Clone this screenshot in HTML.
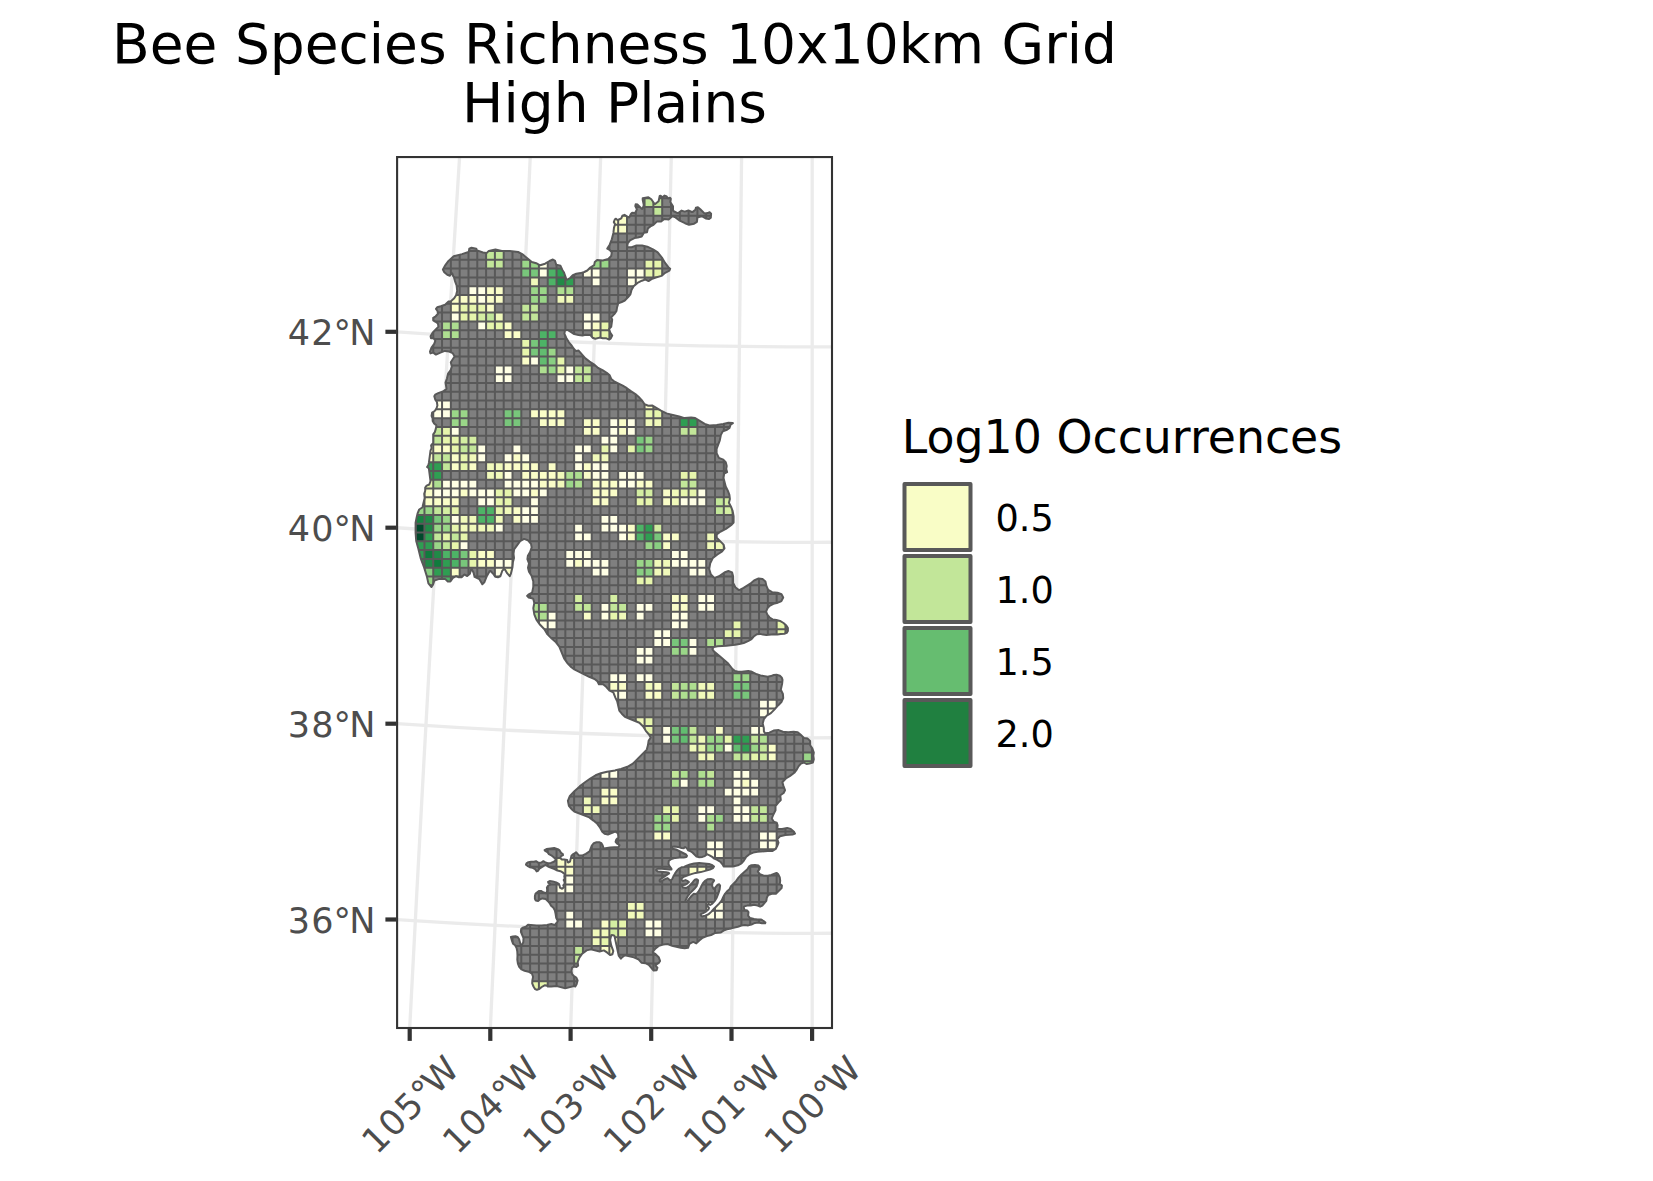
<!DOCTYPE html>
<html lang="en"><head><meta charset="utf-8"><title>Bee Species Richness 10x10km Grid - High Plains</title>
<style>html,body{margin:0;padding:0;background:#fff}svg{display:block}text{font-family:"DejaVu Sans","Liberation Sans",sans-serif}</style>
</head><body>
<svg width="1653" height="1181" viewBox="0 0 1653 1181">
<rect x="0" y="0" width="1653" height="1181" fill="#fff"/>
<defs>
<clipPath id="panel"><rect x="397.1" y="157.1" width="434.9" height="871"/></clipPath>
<clipPath id="region"><path d="M453.3 276.3 L453.9 276.9 L455 281.1 L456.6 285.5 L457.2 290.8 L456.1 295.2 L453.9 298.6 L450.6 301.4 L448.3 301.6 L445.1 304.7 L440.8 306.3 L437.2 307.3 L436 308.9 L437.5 311 L438 313.8 L435.7 316.3 L433.2 317.8 L433.2 320.3 L435.6 321.8 L437.9 323.5 L438.5 326.6 L432.6 332.7 L430.6 336.2 L431 338.2 L433.4 338.2 L435.2 340.5 L435.3 340.9 L434.2 343.9 L431.5 347.6 L430 351.6 L430.4 353.4 L433.3 352.6 L435.9 354.6 L440.4 352.6 L444.9 350.9 L449.2 351.5 L452.6 353.1 L454.5 356.2 L454.4 356.7 L450.8 362.3 L451.8 366.6 L450.7 370 L448.1 373.6 L447 378.3 L445.5 382.5 L446.5 388.7 L446.4 389.1 L442.9 391.5 L438.2 393.1 L435.2 394.6 L434.3 396.3 L435.3 399.7 L436.9 402 L437.4 405.5 L436.4 408.7 L434.7 411 L432.1 412.6 L431.6 415.9 L432.6 418.4 L432.7 421.1 L434.1 423.5 L436.2 425.1 L436.4 425.7 L435.8 428.9 L434.8 432.1 L433.2 434.3 L433.2 442.8 L431.1 445.4 L431.6 448.1 L430.5 450.7 L428.9 463 L428.4 465.1 L427.1 467 L428.7 468.2 L428.9 468.6 L430.5 481.1 L429.3 484.5 L426.6 485.7 L425.2 487.5 L425.2 490.7 L424.2 493.8 L424.7 498.1 L422.5 507.1 L422.3 507.5 L419.2 509.5 L417.7 513.1 L416.7 517.2 L415.6 522.8 L415.6 532.6 L416.2 541 L418.3 548.4 L420.9 559 L424.1 567.5 L426.8 576.1 L428.4 583.4 L431.5 587 L433.1 584.5 L434.3 580.6 L439.3 578.9 L445.1 578.9 L447.8 581.5 L450.4 581.5 L452.9 578 L455.7 576.3 L456.3 576.2 L458.8 577.2 L461.6 577.2 L464.1 574.7 L464.6 574.6 L467.2 576 L469.9 573.8 L470.9 569.7 L471.4 569.3 L472 569.6 L473.6 572.8 L474.6 576.9 L479.3 579 L482.3 584.3 L484.3 582.3 L486.9 575.9 L489.6 571.2 L489.9 570.9 L490.5 571 L493.2 573.7 L495.2 576.8 L498 577.2 L500.3 576.3 L502.4 570.5 L504.1 569.3 L504.6 569.3 L505 569.6 L507.1 573.2 L509.7 576.2 L510.8 573.9 L512.4 567.6 L512.9 562.3 L514 558.1 L513.5 553.8 L514.1 549.3 L520.1 541.1 L524.1 538.9 L527.8 540.2 L531 543.9 L531.7 547.4 L530.1 552 L527.9 555.7 L527.4 559.1 L529 563.4 L528 567.7 L529 571.7 L531.7 576.1 L533.3 581.4 L533.3 586.9 L532.1 592.6 L528.8 594.3 L527.1 595.9 L528.7 597.5 L532.8 598.5 L533.3 599 L534.3 603 L533.3 608.2 L534.3 614.4 L536.4 619.6 L540.1 624.8 L544.4 629.2 L547.5 634.4 L551.7 638.6 L556 642.3 L559.3 646.6 L564.1 658.4 L567.8 663.6 L571.4 667.3 L574.3 669.4 L589.2 676.8 L594.6 679 L597.3 681.1 L598.9 684.2 L602.7 684.2 L603.1 684.3 L606.4 687.1 L609.5 690.7 L613.3 692.4 L615.5 697.9 L617.2 701.2 L619.3 710.6 L621.8 713.7 L624.9 716.8 L629.6 718.8 L639.4 722.7 L643.2 726.5 L645.8 730.8 L649 734.5 L650.7 737.4 L650.6 737.8 L648.6 740.9 L648 745.1 L646.8 749.6 L632.9 763.6 L627.4 766.8 L621 768.9 L615.5 770.3 L615.1 770.6 L607.1 771.7 L600.8 773.2 L595.6 775.3 L590.3 778.5 L585 782.2 L579.7 786.4 L574.4 791.2 L569.9 795.9 L567.9 800.9 L568.9 805.9 L572 809.5 L574.3 811.5 L589.3 817.4 L593.5 820.6 L597.3 823.8 L600.1 827.7 L602.3 831.8 L604.6 833.8 L607.9 834.5 L615.3 831.6 L617.8 833.1 L618 833.6 L618.4 837.5 L616.2 839.8 L615.6 841.8 L617.1 843.7 L619.4 844.9 L619.5 845.3 L618.7 846.7 L618.2 846.9 L610.2 847.4 L603.9 848.4 L603.4 848 L602.7 845.5 L601.4 843.2 L599.2 842.2 L596.5 842.2 L593.8 843.2 L591.8 845.6 L589.6 851.4 L585.8 853.8 L582.1 855.6 L579.3 855.6 L578.9 855.4 L576 852.2 L574.6 853.4 L572.8 854.4 L571.5 855.7 L570 861.6 L568.1 862.5 L567.6 862.2 L567.2 859.9 L564.4 859.6 L562.1 859.6 L560.3 858.3 L560.3 857.7 L561.1 856.1 L563 855.1 L562.8 854 L561 852.8 L559.6 850.4 L557.7 849.1 L554.2 848 L550.7 848.4 L546.5 849.1 L544.6 850.1 L545.2 850.9 L547.3 852 L548.9 854.2 L551.8 855.7 L554 857.5 L555.9 859.5 L555.7 860.2 L553.9 861.7 L550.9 862.9 L547.8 863.3 L545.4 862.5 L543.4 861.2 L541.3 862.5 L538.5 862.9 L536 861.2 L534 861.8 L531.1 861.8 L528.4 862.2 L526.5 863.4 L526 864.7 L527.4 865.8 L529.8 867.2 L532.7 867.9 L535 869 L536.7 871.4 L537.9 870.9 L539.4 868.7 L543.8 865.8 L545.5 865 L545.9 865.1 L548 866.5 L554.5 869 L557.4 870.5 L560.4 871.2 L562.6 872.4 L564.6 874 L564.7 874.4 L564.3 876.5 L564.7 878.4 L563.7 880.1 L564.7 882 L564.3 884.4 L563.3 885.3 L563.9 886.8 L563.9 887.3 L562.3 888.6 L561.8 888.7 L560 887.7 L559.5 885.3 L558.9 883.8 L556.2 882.5 L552.7 881.4 L549.7 881.1 L548.1 881.9 L548.3 882.9 L550 883.6 L550.1 884.3 L549.9 884.6 L548.2 885.6 L546.9 887.5 L547.2 890.4 L546.4 893.2 L545.7 893.3 L543.2 892.3 L541 890.9 L539.2 890.9 L535.6 893.5 L534.9 896.1 L534.9 898.8 L535.8 900.6 L538.1 900.9 L540.1 899.2 L542.5 898.4 L545.7 899.1 L548.2 901.4 L550 903.7 L551.1 905.8 L553.4 907.7 L554.9 910.5 L555.6 913.9 L556.2 917.8 L557.7 920.9 L557.7 921.4 L555 924.8 L554.6 925 L551.3 924 L547.1 925 L541.7 925.5 L536.4 925.5 L528 924.8 L525.9 926.8 L522.6 927.7 L521.2 928.9 L520.9 931.8 L523.5 938.1 L523.3 942.1 L521.9 945.1 L521.6 945.4 L521.1 945.3 L520.8 945 L519 939 L517.5 936.9 L515.5 936.3 L513 936.5 L510.9 936.9 L512.1 941.2 L513.1 943.8 L515.1 945.3 L516.6 948.1 L517.3 951.5 L517.5 955.6 L517.3 959.7 L517.9 963.6 L519.2 966.8 L521.4 969.4 L524.6 970.7 L528.6 971.7 L531.9 973.5 L533.1 976.8 L532.4 980.1 L532.2 983.3 L533.5 986.5 L535 989 L536.9 989.8 L539.3 989 L541.7 987 L544.6 985.3 L546.7 985.6 L547.7 986.5 L551.3 986.6 L556.8 986.1 L565.2 988.2 L573.9 986.1 L575.3 986.5 L576.6 984.3 L577.6 980.4 L576.2 977.5 L573.6 975.7 L572.1 974.2 L571.5 970.8 L572.1 967.7 L573.9 966.6 L576.5 966.9 L578.1 965.7 L577.7 962 L579.4 957.6 L582.2 953.7 L586.6 950.4 L590.9 949.4 L599.6 951.5 L603.9 950.4 L607.3 952.7 L610.3 955.1 L612.4 954.3 L613.3 951.1 L611.2 945.4 L610.1 940 L611.2 935.4 L611.7 935 L614.1 935.5 L614.5 936 L618.7 955.6 L620.9 958.6 L622.6 956.9 L625 955.2 L633.8 957.4 L638.3 959.2 L641.4 962.7 L645.4 963.2 L648.8 964.9 L653.6 970.6 L656.6 970.2 L657.4 967.7 L655.6 965.8 L655.4 965.2 L655.7 964.9 L658.8 962.8 L660.1 961 L658.7 957.2 L655.6 954.2 L653 952.6 L652.7 951.9 L655.6 948.4 L659 945.7 L663.3 944.6 L667.6 944 L672.1 945.7 L680.6 947.8 L684.7 948.3 L688 947.8 L689.5 943.9 L689.8 943.6 L693.2 941.9 L696.3 943.4 L699.3 940.5 L702.6 937.7 L706.9 936.1 L711.1 935 L715.3 932.9 L720.9 932.4 L723.5 930.6 L726.9 929.3 L731.2 928.4 L737.9 926.7 L741.4 925.5 L744.8 925 L748.2 925.4 L751.4 924.6 L754.9 922.9 L758.3 922.5 L761.9 923.3 L765.1 923.3 L765.4 922.5 L763.6 921 L760.8 919.4 L757.5 919.4 L754.1 919 L750 918.1 L748.1 915.6 L748.5 912.2 L747.1 910.5 L744.8 910.1 L744.4 909.9 L743.8 907.1 L743.9 906.7 L744.3 906.4 L747.2 905.6 L750.7 905.5 L754 904.7 L757.7 905.6 L760.1 906.7 L762.3 905.7 L766.3 900.8 L766.8 897.8 L768.2 895.1 L771.7 893.7 L775.9 893.7 L781.6 888.1 L781.9 885.6 L779.8 883.8 L780.2 880.7 L779.8 877.5 L778.3 874.3 L776.5 872.9 L771.3 875 L767.9 875.8 L763.3 875.4 L759.9 874.1 L757.8 871.6 L758 871 L759.5 869.4 L759.9 867.3 L758.5 865.6 L755 865.1 L751.4 865.2 L749.1 866.4 L747.4 869.3 L741.5 874.4 L738.5 877.7 L736 881.2 L731 886.2 L729.6 889.2 L727.1 891.3 L725 893.8 L723.4 896.7 L721.6 900.6 L719.1 903.6 L714 908.7 L711.4 911.6 L708.6 914.3 L705.2 915.6 L702 916.5 L701.6 916.2 L700.7 914.9 L700.6 914.5 L700.8 914.2 L703.1 913.2 L706 911.6 L708.4 909.6 L709 908 L707.4 906.2 L708 904.1 L708.6 903.9 L710.2 905 L712.3 903.6 L714.7 901.1 L716.8 897.4 L718.5 893.2 L719.7 889.1 L720.1 885.5 L719.2 884.2 L717.7 884.6 L714.4 888.7 L713.8 888.9 L713.4 888.6 L712.1 885.9 L712.5 882.8 L714.1 880.7 L713.5 879.6 L710.9 879 L707.8 879.2 L705 880.8 L703 883.2 L701.4 886.1 L700 889.1 L698.4 891.7 L696.6 893.8 L696.1 894 L693.8 893.7 L691.5 896 L689 898.9 L687.1 901.8 L686.5 902.1 L686.1 901.8 L685.4 900.6 L687.2 897 L689.4 893.9 L694.4 888.8 L696.5 886.4 L697.7 883.1 L698.1 880.2 L696.9 879.3 L695.2 879.6 L693.6 881.1 L691.9 883.3 L689.4 885.8 L686.3 888 L685.9 888.1 L683.1 887.6 L682.1 886.1 L682.1 885.5 L682.5 885.2 L685 884.8 L687.3 883.6 L688.9 882.1 L687.8 881.2 L685.5 880.1 L683.2 880.9 L682.8 880.9 L681.3 879.5 L681.2 879 L681.4 878.6 L683.7 876.8 L691.3 874.1 L695.6 872.9 L700.7 872.1 L709.9 869.6 L713.1 868 L714 866.5 L712.4 865.2 L709.1 864 L704.2 863.4 L699.1 863.1 L694.1 863.5 L690 864.4 L686.7 865.6 L684.1 866.9 L681.5 867.3 L678.7 868.9 L676.7 871 L675.1 873.4 L673.4 876.3 L672.1 879.3 L670.7 880.4 L670.4 880.5 L669.9 880.3 L667.6 878.1 L665.9 878.7 L660.6 881.7 L660.2 881.7 L659.8 881.5 L659.6 880.4 L659.8 879.8 L669.1 873.4 L668.7 872.8 L666 872.2 L657.8 871.6 L656.2 870.2 L656.3 869.5 L658.1 868.5 L661.9 868.7 L669.9 869.5 L671.5 869.4 L671.4 868.7 L669.8 866.6 L668.5 864.1 L668.7 861.2 L669 860.8 L671.4 859 L675.3 857.9 L679.6 857.4 L683.8 857.4 L686.4 856.9 L687 855.8 L686 854.5 L676 849.5 L672.5 848.6 L671.7 847.7 L671.7 846.9 L672.1 846.7 L674.7 846.4 L678 846.9 L681.5 848 L683.7 848.3 L684.7 847.3 L685.2 847.1 L685.5 847.2 L686.9 848.2 L688.1 850.2 L690.1 851 L692.7 852.7 L696.5 856.6 L699.2 857.3 L702.4 856.9 L704.8 856.1 L706.8 854.4 L707.4 854.3 L709.6 855.3 L712.2 856.9 L714.3 858.6 L717.2 859.9 L720.6 862 L722.5 864.3 L723.6 866.4 L727.9 866.6 L732.9 866.4 L737.9 865.3 L741.5 863.3 L743.9 860.5 L746 857.1 L749.1 854.4 L753.2 852.6 L757.5 851.8 L767.7 850.9 L772.6 850.9 L775.7 849 L777.3 845.8 L778.5 842.6 L777.3 839.4 L777.3 839 L780 836.3 L785.4 835.1 L792.5 834.6 L795 833.6 L794.2 832.1 L790.7 828.9 L787.2 827.9 L782.1 828.9 L777.7 829.1 L777.3 828.5 L777.6 825.4 L776.7 822.6 L773.6 821.6 L771.8 818.5 L773.4 814.5 L775.5 810.3 L775.5 806 L778.3 802.6 L780.8 800.1 L780.3 795.6 L780.4 795.2 L783.6 793 L785 790.2 L783.5 786.1 L782.4 782.4 L782.5 782 L785.9 778.5 L790.1 775.9 L794.3 772.8 L796.9 769.4 L798.5 766.4 L800.9 763.6 L803.8 762.5 L806.5 764 L809.5 763.5 L812.9 762.6 L813.8 759.3 L813.3 755.7 L813.8 752.5 L812.3 748.4 L810.2 745.3 L810.1 740.9 L807.7 738.6 L804 738 L800.7 734.8 L797.7 732.2 L793.6 731.7 L788.3 732.2 L782.9 731.7 L778.7 730.1 L773.6 730.6 L769.4 732.7 L765.5 733.3 L764.9 733 L763.9 731.4 L763.8 728 L762.7 723.5 L763.9 719 L766.7 715.7 L770.9 713.1 L774.6 709.4 L778.3 705.2 L781.4 702 L783.2 698 L782.9 694 L780.8 689.7 L782.1 683.9 L782.5 679.9 L781.8 677.6 L779.9 675.7 L776.5 674.8 L773.8 675 L770.9 676.1 L767.7 676.8 L760.5 675.4 L756.8 674.3 L751 671.4 L748.2 670.9 L741.8 671.7 L738.1 671.7 L735 671 L732.5 669 L728.2 663.6 L719.5 656 L714.1 651.6 L712.4 649.1 L712.6 648.6 L713.8 647 L717.6 646.2 L726.4 645.7 L735.1 644.8 L739.4 644.1 L743.7 643 L748 641.2 L751.5 639.1 L753.7 636.5 L756.9 634.3 L760 633.9 L762.9 634.6 L766.4 635 L773.6 634.2 L777.2 634.6 L780.8 633.9 L784.4 633.7 L786.7 632.9 L787.9 631 L787.9 628.1 L786.3 625.4 L783.5 623 L780 620.9 L776.4 620 L772.6 619.4 L769.6 617.5 L767.3 614.7 L766.2 611.8 L766.2 611.4 L767.4 608.3 L769.6 605.8 L773.4 603.8 L777.8 602.7 L781 601.3 L781.5 600.9 L783.2 597.5 L781.5 594.3 L777.5 592.8 L772.1 592.2 L768.2 589.9 L766.4 585.9 L765.4 581.4 L762.5 578.9 L758.6 578.4 L754.1 580.5 L750.3 583.7 L743.6 587.9 L739.3 590.1 L738.9 590.1 L735.3 587.2 L733.2 582.9 L733.1 576.3 L732.1 572.4 L728.4 571 L724.4 572.5 L719 576.3 L714.5 577.9 L714.1 577.7 L710.9 574.5 L709.2 569 L710.2 563.3 L712.9 557.9 L717.4 554.5 L722.1 551.3 L724.5 548.4 L723.6 544.6 L716.7 537.6 L716.7 534.4 L720.7 531.5 L725.9 528.9 L731.7 524.7 L733.6 522.5 L733.6 516.1 L732.6 510.9 L731 506.7 L728.9 502.8 L729.9 499 L729.4 494.9 L727.8 490.7 L725.7 486.4 L723.5 477.9 L724.2 473.6 L727.1 472.1 L726.2 469.1 L726.7 466 L725.7 462.1 L723.3 459.6 L718.9 457.9 L716.6 453.2 L716.6 448.8 L719.8 440.3 L720.9 434.9 L722.5 431.7 L722.9 431.4 L727 429.8 L729.5 427.9 L730.6 424.6 L732.9 423.2 L732.8 422.9 L728.4 422.7 L723.2 424 L716.8 425.1 L710.1 425.6 L704.7 423.9 L695.2 418.1 L691.1 417.6 L684.6 418.1 L679.2 416.5 L666.5 413.4 L661 410.6 L652.1 405.4 L648.3 405.7 L644.6 404.3 L641.7 400.1 L638.5 396.7 L635.4 394.1 L631.2 391.4 L626.9 388.2 L622.7 385.6 L614.1 381.3 L611.2 378.9 L609.7 375.3 L606.7 372.8 L602.5 370.2 L598.1 368 L593.9 364.3 L589.6 361.6 L585.4 358.4 L578.6 350.6 L576.2 351.1 L575.7 350.9 L573.6 348.5 L571.6 345.5 L568.9 342.3 L566.3 338 L564.4 333.7 L564.9 330.8 L565.2 330.5 L567.4 329.9 L570.8 331.9 L574.2 334.1 L578.4 335 L582.5 335.5 L585.7 334.7 L590 335 L590.4 335.2 L592.5 337.7 L595.3 338.7 L599.7 337.6 L602.8 338.2 L605.9 338.2 L609.1 339.6 L610.8 338.4 L612.2 335.6 L610.2 332.6 L609.1 329.1 L609.2 328.7 L611.2 326.8 L612.2 319.7 L611.3 317.7 L611.2 317.2 L614.5 313.9 L616.5 310.9 L617.1 307.2 L618.3 303.2 L621.7 302 L624.8 300.5 L627.9 297.4 L630.4 294.3 L631.5 290 L633.6 286.3 L637.5 282.9 L641.9 280.7 L645.1 279.6 L645.6 279.7 L648.5 281.1 L651.5 279.1 L655.8 277.5 L661.5 275.9 L665.2 272.8 L669.4 270.7 L670.2 268.7 L668.3 267.2 L665.1 262.9 L661.9 257.6 L657.7 252.4 L653 249.3 L647.3 246.7 L642.1 245.6 L635.9 245.6 L631.7 247.2 L627.5 247.2 L627.2 246.5 L627.7 243.3 L630 240.4 L634.4 238.1 L637.8 237.5 L641.7 236.5 L643.9 232.8 L647 232.3 L647.9 228.4 L648.2 228.1 L650.4 226.4 L653.5 224.8 L656.8 221.6 L661.1 221.5 L664.3 218.9 L668.6 219.4 L672.3 216.3 L672.7 216.3 L675.5 217.4 L679.7 220.6 L685 223.2 L689 224.7 L694.1 223.7 L696.9 221.8 L697.4 217.8 L697.9 217.3 L701.8 216.2 L705.7 218.4 L709.1 218.9 L710.8 217.6 L711.1 213.8 L709.6 212.2 L707.7 213.1 L704.7 213.6 L700.3 209.3 L697.9 207.3 L695.9 207.8 L695.4 209.7 L692.4 212.1 L691.9 212 L688.4 210.5 L684.7 211.6 L681.6 210.6 L678.2 213 L677.5 213.1 L673.3 211 L673 210.6 L673 206.3 L670.3 202 L670.8 198.9 L670.1 197.8 L668.4 198.2 L667.9 198.2 L666.3 196.1 L664.6 195.6 L662.7 197.1 L662.3 197.2 L661.9 197 L660.6 195.7 L659.7 196 L658.6 201.2 L655.1 204.1 L654.4 203.8 L651.3 199.2 L648.4 197.2 L642.7 198.2 L642.7 199.7 L643.8 205 L642.6 208.7 L642.2 208.9 L641.7 208.7 L637.6 204.6 L635.7 204.2 L635.3 206.1 L636.9 209.4 L635.1 213 L634.6 213.1 L632.2 212.7 L630.9 214 L629.4 217.1 L629 217.4 L628.5 217.3 L624.5 214.8 L622.4 215.7 L621.3 218.3 L617.9 220 L617.2 219.9 L616 218.7 L614.9 219.3 L613.8 222.1 L615 224 L615 224.5 L614 227.6 L613.4 232.9 L611.8 239.3 L609.7 244.7 L607.3 248.6 L609.6 249.9 L611.8 252.3 L611.2 256.1 L608.2 258.9 L602.9 260.5 L597.1 260 L594.8 261.9 L594.2 265.1 L590.3 267.5 L587.3 270.5 L584.3 272 L580.6 273.1 L576.3 273.8 L572.8 275.2 L570.1 278 L567.3 279.6 L566.7 279.6 L566.4 279.3 L564 272.5 L562.5 270.2 L560.5 265.8 L556.3 264.7 L556.1 264.4 L555.1 260.9 L552.9 259.5 L549.5 261 L545.1 263.7 L540.1 265.3 L536.2 263.2 L531.8 262 L522.2 254.1 L518.1 252 L509.8 251 L501.8 251 L495.4 249.4 L488.8 250.9 L486.8 252.9 L486.3 253.1 L483 252.5 L477.1 250.4 L476.8 250 L476.3 248.7 L471.5 247.8 L469.3 248.7 L468.9 251.5 L468.5 252 L462 254.1 L453.7 256.2 L448.5 260.9 L445.4 265.1 L442.9 269.5 L444.3 272.3 L447.3 274.8 L449.9 275.7 L451.3 273.5 L451.6 273.2 L452 273.2 L452.3 273.6 Z"/></clipPath>
</defs>
<g font-size="55" fill="#000" text-anchor="middle">
<text x="614.5" y="63">Bee Species Richness 10x10km Grid</text>
<text x="614.5" y="122">High Plains</text>
</g>
<g clip-path="url(#panel)" fill="none" stroke="#EBEBEB" stroke-width="3.3">
<path d="M409.2 1038 Q432.1 592.5 460.2 147.1"/>
<path d="M489.9 1038 Q508.6 592.5 530.7 147.1"/>
<path d="M570.3 1038 Q584.7 592.5 601 147.1"/>
<path d="M651 1038 Q660.8 592.5 671.5 147.1"/>
<path d="M731.5 1038 Q736.5 592.5 741.7 147.1"/>
<path d="M812.2 1038 Q812.2 592.5 812.2 147.1"/>
<circle cx="812.2" cy="-5392.1" r="5739"/>
<circle cx="812.2" cy="-5373.6" r="5915.9"/>
<circle cx="812.2" cy="-5355.1" r="6092.9"/>
<circle cx="812.2" cy="-5336.5" r="6269.8"/>
</g>
<g clip-path="url(#panel)">
<g clip-path="url(#region)">
<rect x="400" y="180" width="430" height="830" fill="#7F7F7F"/>
<path fill="#C2E699" d="M486.09 251.02h8.8v8.8h-8.8zM494.89 251.02h8.8v8.8h-8.8zM486.09 259.81h8.8v8.8h-8.8zM494.89 259.81h8.8v8.8h-8.8zM644.58 198.24h8.8v8.8h-8.8zM653.38 198.24h8.8v8.8h-8.8zM653.38 207.03h8.8v8.8h-8.8zM521.31 303.8h8.8v8.8h-8.8zM530.11 303.8h8.8v8.8h-8.8zM486.09 312.6h8.8v8.8h-8.8zM521.31 312.6h8.8v8.8h-8.8zM530.11 312.6h8.8v8.8h-8.8zM574.13 365.38h8.8v8.8h-8.8zM582.94 365.38h8.8v8.8h-8.8zM574.13 374.18h8.8v8.8h-8.8zM582.94 374.18h8.8v8.8h-8.8zM433.25 426.96h8.8v8.8h-8.8zM679.8 426.96h8.8v8.8h-8.8zM688.6 426.96h8.8v8.8h-8.8zM433.25 435.75h8.8v8.8h-8.8zM459.67 444.55h8.8v8.8h-8.8zM468.48 444.55h8.8v8.8h-8.8zM433.25 453.35h8.8v8.8h-8.8zM442.06 453.35h8.8v8.8h-8.8zM442.06 462.15h8.8v8.8h-8.8zM679.8 479.74h8.8v8.8h-8.8zM688.6 479.74h8.8v8.8h-8.8zM715.02 497.33h8.8v8.8h-8.8zM433.25 506.13h8.8v8.8h-8.8zM715.02 506.13h8.8v8.8h-8.8zM433.25 532.52h8.8v8.8h-8.8zM450.87 532.52h8.8v8.8h-8.8zM442.06 541.32h8.8v8.8h-8.8zM574.13 602.9h8.8v8.8h-8.8zM582.94 602.9h8.8v8.8h-8.8zM609.36 602.9h8.8v8.8h-8.8zM618.16 602.9h8.8v8.8h-8.8zM670.99 682.07h8.8v8.8h-8.8zM670.99 690.87h8.8v8.8h-8.8zM688.6 726.06h8.8v8.8h-8.8zM688.6 734.85h8.8v8.8h-8.8zM750.24 734.85h8.8v8.8h-8.8zM759.04 743.65h8.8v8.8h-8.8zM732.62 752.45h8.8v8.8h-8.8zM741.43 752.45h8.8v8.8h-8.8zM670.99 770.04h8.8v8.8h-8.8zM706.21 770.04h8.8v8.8h-8.8zM750.24 805.23h8.8v8.8h-8.8zM759.04 805.23h8.8v8.8h-8.8zM750.24 814.03h8.8v8.8h-8.8zM759.04 814.03h8.8v8.8h-8.8zM574.13 945.98h8.8v8.8h-8.8zM574.13 954.78h8.8v8.8h-8.8z"/>
<path fill="#9AD688" d="M521.31 259.81h8.8v8.8h-8.8zM530.11 259.81h8.8v8.8h-8.8zM591.75 259.81h8.8v8.8h-8.8zM600.55 259.81h8.8v8.8h-8.8zM530.11 286.21h8.8v8.8h-8.8zM538.91 286.21h8.8v8.8h-8.8zM530.11 295h8.8v8.8h-8.8zM538.91 295h8.8v8.8h-8.8zM547.72 347.78h8.8v8.8h-8.8zM547.72 365.38h8.8v8.8h-8.8zM450.87 409.36h8.8v8.8h-8.8zM459.67 409.36h8.8v8.8h-8.8zM450.87 418.16h8.8v8.8h-8.8zM459.67 418.16h8.8v8.8h-8.8zM644.58 435.75h8.8v8.8h-8.8zM644.58 444.55h8.8v8.8h-8.8zM565.33 479.74h8.8v8.8h-8.8zM415.65 506.13h8.8v8.8h-8.8zM424.45 506.13h8.8v8.8h-8.8zM442.06 514.93h8.8v8.8h-8.8zM433.25 523.72h8.8v8.8h-8.8zM442.06 523.72h8.8v8.8h-8.8zM433.25 541.32h8.8v8.8h-8.8zM644.58 541.32h8.8v8.8h-8.8zM635.77 558.91h8.8v8.8h-8.8zM644.58 558.91h8.8v8.8h-8.8zM424.45 576.51h8.8v8.8h-8.8zM670.99 646.88h8.8v8.8h-8.8zM679.8 646.88h8.8v8.8h-8.8zM732.62 673.27h8.8v8.8h-8.8zM741.43 673.27h8.8v8.8h-8.8zM706.21 734.85h8.8v8.8h-8.8zM715.02 734.85h8.8v8.8h-8.8zM706.21 743.65h8.8v8.8h-8.8zM715.02 743.65h8.8v8.8h-8.8zM750.24 743.65h8.8v8.8h-8.8zM803.07 752.45h8.8v8.8h-8.8zM803.07 761.24h8.8v8.8h-8.8zM653.38 814.03h8.8v8.8h-8.8zM662.18 814.03h8.8v8.8h-8.8zM715.02 814.03h8.8v8.8h-8.8zM653.38 822.82h8.8v8.8h-8.8zM662.18 822.82h8.8v8.8h-8.8z"/>
<path fill="#FFFFE5" d="M538.91 259.81h8.8v8.8h-8.8zM538.91 268.61h8.8v8.8h-8.8zM582.94 268.61h8.8v8.8h-8.8zM591.75 268.61h8.8v8.8h-8.8zM626.97 268.61h8.8v8.8h-8.8zM635.77 268.61h8.8v8.8h-8.8zM591.75 277.41h8.8v8.8h-8.8zM626.97 277.41h8.8v8.8h-8.8zM635.77 277.41h8.8v8.8h-8.8zM468.48 286.21h8.8v8.8h-8.8zM477.28 286.21h8.8v8.8h-8.8zM477.28 295h8.8v8.8h-8.8zM450.87 312.6h8.8v8.8h-8.8zM582.94 312.6h8.8v8.8h-8.8zM591.75 312.6h8.8v8.8h-8.8zM477.28 321.39h8.8v8.8h-8.8zM582.94 321.39h8.8v8.8h-8.8zM530.11 356.58h8.8v8.8h-8.8zM494.89 365.38h8.8v8.8h-8.8zM503.7 365.38h8.8v8.8h-8.8zM565.33 365.38h8.8v8.8h-8.8zM494.89 374.18h8.8v8.8h-8.8zM503.7 374.18h8.8v8.8h-8.8zM556.53 374.18h8.8v8.8h-8.8zM565.33 374.18h8.8v8.8h-8.8zM433.25 400.57h8.8v8.8h-8.8zM442.06 400.57h8.8v8.8h-8.8zM433.25 409.36h8.8v8.8h-8.8zM442.06 409.36h8.8v8.8h-8.8zM609.36 418.16h8.8v8.8h-8.8zM626.97 418.16h8.8v8.8h-8.8zM450.87 426.96h8.8v8.8h-8.8zM609.36 426.96h8.8v8.8h-8.8zM626.97 426.96h8.8v8.8h-8.8zM600.55 435.75h8.8v8.8h-8.8zM609.36 435.75h8.8v8.8h-8.8zM477.28 444.55h8.8v8.8h-8.8zM512.5 444.55h8.8v8.8h-8.8zM574.13 444.55h8.8v8.8h-8.8zM582.94 444.55h8.8v8.8h-8.8zM609.36 444.55h8.8v8.8h-8.8zM477.28 453.35h8.8v8.8h-8.8zM503.7 453.35h8.8v8.8h-8.8zM521.31 453.35h8.8v8.8h-8.8zM574.13 453.35h8.8v8.8h-8.8zM574.13 462.15h8.8v8.8h-8.8zM591.75 462.15h8.8v8.8h-8.8zM600.55 462.15h8.8v8.8h-8.8zM503.7 470.94h8.8v8.8h-8.8zM591.75 470.94h8.8v8.8h-8.8zM600.55 470.94h8.8v8.8h-8.8zM618.16 470.94h8.8v8.8h-8.8zM626.97 470.94h8.8v8.8h-8.8zM635.77 470.94h8.8v8.8h-8.8zM442.06 479.74h8.8v8.8h-8.8zM450.87 479.74h8.8v8.8h-8.8zM459.67 479.74h8.8v8.8h-8.8zM468.48 479.74h8.8v8.8h-8.8zM503.7 479.74h8.8v8.8h-8.8zM512.5 479.74h8.8v8.8h-8.8zM521.31 479.74h8.8v8.8h-8.8zM530.11 479.74h8.8v8.8h-8.8zM618.16 479.74h8.8v8.8h-8.8zM626.97 479.74h8.8v8.8h-8.8zM433.25 488.54h8.8v8.8h-8.8zM442.06 488.54h8.8v8.8h-8.8zM450.87 488.54h8.8v8.8h-8.8zM468.48 488.54h8.8v8.8h-8.8zM477.28 488.54h8.8v8.8h-8.8zM486.09 488.54h8.8v8.8h-8.8zM512.5 488.54h8.8v8.8h-8.8zM521.31 488.54h8.8v8.8h-8.8zM538.91 488.54h8.8v8.8h-8.8zM697.4 488.54h8.8v8.8h-8.8zM477.28 497.33h8.8v8.8h-8.8zM486.09 497.33h8.8v8.8h-8.8zM530.11 497.33h8.8v8.8h-8.8zM679.8 497.33h8.8v8.8h-8.8zM688.6 497.33h8.8v8.8h-8.8zM697.4 497.33h8.8v8.8h-8.8zM521.31 506.13h8.8v8.8h-8.8zM530.11 506.13h8.8v8.8h-8.8zM450.87 514.93h8.8v8.8h-8.8zM521.31 514.93h8.8v8.8h-8.8zM530.11 514.93h8.8v8.8h-8.8zM600.55 514.93h8.8v8.8h-8.8zM609.36 514.93h8.8v8.8h-8.8zM494.89 523.72h8.8v8.8h-8.8zM574.13 523.72h8.8v8.8h-8.8zM600.55 523.72h8.8v8.8h-8.8zM609.36 523.72h8.8v8.8h-8.8zM618.16 523.72h8.8v8.8h-8.8zM574.13 532.52h8.8v8.8h-8.8zM582.94 532.52h8.8v8.8h-8.8zM618.16 532.52h8.8v8.8h-8.8zM459.67 541.32h8.8v8.8h-8.8zM565.33 550.12h8.8v8.8h-8.8zM574.13 550.12h8.8v8.8h-8.8zM582.94 550.12h8.8v8.8h-8.8zM670.99 550.12h8.8v8.8h-8.8zM679.8 550.12h8.8v8.8h-8.8zM494.89 558.91h8.8v8.8h-8.8zM503.7 558.91h8.8v8.8h-8.8zM565.33 558.91h8.8v8.8h-8.8zM582.94 558.91h8.8v8.8h-8.8zM591.75 558.91h8.8v8.8h-8.8zM600.55 558.91h8.8v8.8h-8.8zM670.99 558.91h8.8v8.8h-8.8zM679.8 558.91h8.8v8.8h-8.8zM688.6 558.91h8.8v8.8h-8.8zM697.4 558.91h8.8v8.8h-8.8zM494.89 567.71h8.8v8.8h-8.8zM591.75 567.71h8.8v8.8h-8.8zM600.55 567.71h8.8v8.8h-8.8zM688.6 567.71h8.8v8.8h-8.8zM697.4 567.71h8.8v8.8h-8.8zM697.4 594.1h8.8v8.8h-8.8zM706.21 594.1h8.8v8.8h-8.8zM600.55 602.9h8.8v8.8h-8.8zM635.77 602.9h8.8v8.8h-8.8zM644.58 602.9h8.8v8.8h-8.8zM697.4 602.9h8.8v8.8h-8.8zM706.21 602.9h8.8v8.8h-8.8zM547.72 611.69h8.8v8.8h-8.8zM600.55 611.69h8.8v8.8h-8.8zM635.77 611.69h8.8v8.8h-8.8zM670.99 611.69h8.8v8.8h-8.8zM679.8 611.69h8.8v8.8h-8.8zM538.91 620.49h8.8v8.8h-8.8zM547.72 620.49h8.8v8.8h-8.8zM670.99 620.49h8.8v8.8h-8.8zM679.8 620.49h8.8v8.8h-8.8zM653.38 629.29h8.8v8.8h-8.8zM662.18 629.29h8.8v8.8h-8.8zM653.38 638.09h8.8v8.8h-8.8zM662.18 638.09h8.8v8.8h-8.8zM688.6 638.09h8.8v8.8h-8.8zM635.77 646.88h8.8v8.8h-8.8zM644.58 646.88h8.8v8.8h-8.8zM688.6 646.88h8.8v8.8h-8.8zM635.77 655.68h8.8v8.8h-8.8zM644.58 655.68h8.8v8.8h-8.8zM609.36 673.27h8.8v8.8h-8.8zM618.16 673.27h8.8v8.8h-8.8zM635.77 673.27h8.8v8.8h-8.8zM644.58 673.27h8.8v8.8h-8.8zM609.36 690.87h8.8v8.8h-8.8zM618.16 690.87h8.8v8.8h-8.8zM759.04 699.66h8.8v8.8h-8.8zM767.85 699.66h8.8v8.8h-8.8zM759.04 708.46h8.8v8.8h-8.8zM767.85 708.46h8.8v8.8h-8.8zM662.18 726.06h8.8v8.8h-8.8zM750.24 726.06h8.8v8.8h-8.8zM759.04 726.06h8.8v8.8h-8.8zM662.18 734.85h8.8v8.8h-8.8zM723.82 743.65h8.8v8.8h-8.8zM600.55 770.04h8.8v8.8h-8.8zM609.36 770.04h8.8v8.8h-8.8zM732.62 770.04h8.8v8.8h-8.8zM741.43 770.04h8.8v8.8h-8.8zM679.8 778.84h8.8v8.8h-8.8zM732.62 778.84h8.8v8.8h-8.8zM750.24 778.84h8.8v8.8h-8.8zM723.82 787.63h8.8v8.8h-8.8zM732.62 787.63h8.8v8.8h-8.8zM741.43 787.63h8.8v8.8h-8.8zM750.24 787.63h8.8v8.8h-8.8zM732.62 796.43h8.8v8.8h-8.8zM697.4 805.23h8.8v8.8h-8.8zM706.21 805.23h8.8v8.8h-8.8zM732.62 805.23h8.8v8.8h-8.8zM741.43 805.23h8.8v8.8h-8.8zM697.4 814.03h8.8v8.8h-8.8zM732.62 814.03h8.8v8.8h-8.8zM741.43 814.03h8.8v8.8h-8.8zM759.04 831.62h8.8v8.8h-8.8zM767.85 831.62h8.8v8.8h-8.8zM706.21 840.42h8.8v8.8h-8.8zM715.02 840.42h8.8v8.8h-8.8zM759.04 840.42h8.8v8.8h-8.8zM767.85 840.42h8.8v8.8h-8.8zM706.21 849.21h8.8v8.8h-8.8zM715.02 849.21h8.8v8.8h-8.8zM565.33 875.6h8.8v8.8h-8.8zM556.53 884.4h8.8v8.8h-8.8zM565.33 884.4h8.8v8.8h-8.8zM706.21 902h8.8v8.8h-8.8zM715.02 902h8.8v8.8h-8.8zM565.33 910.79h8.8v8.8h-8.8zM706.21 910.79h8.8v8.8h-8.8zM715.02 910.79h8.8v8.8h-8.8zM565.33 919.59h8.8v8.8h-8.8zM574.13 919.59h8.8v8.8h-8.8zM644.58 919.59h8.8v8.8h-8.8zM653.38 919.59h8.8v8.8h-8.8zM644.58 928.39h8.8v8.8h-8.8zM653.38 928.39h8.8v8.8h-8.8z"/>
<path fill="#E6F5AC" d="M644.58 259.81h8.8v8.8h-8.8zM653.38 259.81h8.8v8.8h-8.8zM644.58 268.61h8.8v8.8h-8.8zM653.38 268.61h8.8v8.8h-8.8zM459.67 303.8h8.8v8.8h-8.8zM468.48 303.8h8.8v8.8h-8.8zM477.28 303.8h8.8v8.8h-8.8zM459.67 312.6h8.8v8.8h-8.8zM468.48 312.6h8.8v8.8h-8.8zM486.09 321.39h8.8v8.8h-8.8zM494.89 321.39h8.8v8.8h-8.8zM600.55 321.39h8.8v8.8h-8.8zM591.75 330.19h8.8v8.8h-8.8zM600.55 330.19h8.8v8.8h-8.8zM521.31 338.99h8.8v8.8h-8.8zM521.31 347.78h8.8v8.8h-8.8zM556.53 356.58h8.8v8.8h-8.8zM556.53 365.38h8.8v8.8h-8.8zM653.38 400.57h8.8v8.8h-8.8zM644.58 409.36h8.8v8.8h-8.8zM653.38 409.36h8.8v8.8h-8.8zM442.06 426.96h8.8v8.8h-8.8zM442.06 435.75h8.8v8.8h-8.8zM450.87 435.75h8.8v8.8h-8.8zM450.87 444.55h8.8v8.8h-8.8zM600.55 444.55h8.8v8.8h-8.8zM626.97 444.55h8.8v8.8h-8.8zM459.67 453.35h8.8v8.8h-8.8zM459.67 462.15h8.8v8.8h-8.8zM679.8 470.94h8.8v8.8h-8.8zM688.6 470.94h8.8v8.8h-8.8zM424.45 479.74h8.8v8.8h-8.8zM494.89 488.54h8.8v8.8h-8.8zM503.7 488.54h8.8v8.8h-8.8zM679.8 488.54h8.8v8.8h-8.8zM688.6 488.54h8.8v8.8h-8.8zM494.89 497.33h8.8v8.8h-8.8zM503.7 497.33h8.8v8.8h-8.8zM635.77 497.33h8.8v8.8h-8.8zM644.58 497.33h8.8v8.8h-8.8zM450.87 506.13h8.8v8.8h-8.8zM494.89 506.13h8.8v8.8h-8.8zM450.87 523.72h8.8v8.8h-8.8zM442.06 532.52h8.8v8.8h-8.8zM459.67 532.52h8.8v8.8h-8.8zM450.87 541.32h8.8v8.8h-8.8zM468.48 550.12h8.8v8.8h-8.8zM468.48 558.91h8.8v8.8h-8.8zM635.77 576.51h8.8v8.8h-8.8zM644.58 576.51h8.8v8.8h-8.8zM609.36 611.69h8.8v8.8h-8.8zM732.62 620.49h8.8v8.8h-8.8zM776.65 620.49h8.8v8.8h-8.8zM723.82 629.29h8.8v8.8h-8.8zM732.62 629.29h8.8v8.8h-8.8zM776.65 629.29h8.8v8.8h-8.8zM644.58 717.26h8.8v8.8h-8.8zM644.58 726.06h8.8v8.8h-8.8zM723.82 734.85h8.8v8.8h-8.8zM697.4 743.65h8.8v8.8h-8.8zM750.24 752.45h8.8v8.8h-8.8zM662.18 805.23h8.8v8.8h-8.8zM670.99 805.23h8.8v8.8h-8.8zM670.99 814.03h8.8v8.8h-8.8zM618.16 919.59h8.8v8.8h-8.8zM618.16 928.39h8.8v8.8h-8.8zM600.55 937.18h8.8v8.8h-8.8zM530.11 981.17h8.8v8.8h-8.8zM538.91 981.17h8.8v8.8h-8.8z"/>
<path fill="#78C67B" d="M521.31 268.61h8.8v8.8h-8.8zM530.11 268.61h8.8v8.8h-8.8zM530.11 338.99h8.8v8.8h-8.8zM530.11 347.78h8.8v8.8h-8.8zM503.7 409.36h8.8v8.8h-8.8zM512.5 409.36h8.8v8.8h-8.8zM503.7 418.16h8.8v8.8h-8.8zM512.5 418.16h8.8v8.8h-8.8zM635.77 435.75h8.8v8.8h-8.8zM635.77 444.55h8.8v8.8h-8.8zM433.25 514.93h8.8v8.8h-8.8zM653.38 532.52h8.8v8.8h-8.8zM459.67 550.12h8.8v8.8h-8.8zM459.67 558.91h8.8v8.8h-8.8zM670.99 638.09h8.8v8.8h-8.8zM679.8 638.09h8.8v8.8h-8.8zM732.62 682.07h8.8v8.8h-8.8zM741.43 682.07h8.8v8.8h-8.8zM732.62 690.87h8.8v8.8h-8.8zM741.43 690.87h8.8v8.8h-8.8zM670.99 726.06h8.8v8.8h-8.8zM670.99 734.85h8.8v8.8h-8.8z"/>
<path fill="#4DB366" d="M547.72 268.61h8.8v8.8h-8.8zM547.72 277.41h8.8v8.8h-8.8zM538.91 330.19h8.8v8.8h-8.8zM547.72 330.19h8.8v8.8h-8.8zM538.91 338.99h8.8v8.8h-8.8zM477.28 506.13h8.8v8.8h-8.8zM486.09 506.13h8.8v8.8h-8.8zM477.28 514.93h8.8v8.8h-8.8zM486.09 514.93h8.8v8.8h-8.8zM635.77 523.72h8.8v8.8h-8.8zM635.77 532.52h8.8v8.8h-8.8zM442.06 550.12h8.8v8.8h-8.8zM450.87 550.12h8.8v8.8h-8.8zM450.87 558.91h8.8v8.8h-8.8zM442.06 576.51h8.8v8.8h-8.8z"/>
<path fill="#2F9E52" d="M556.53 268.61h8.8v8.8h-8.8zM565.33 277.41h8.8v8.8h-8.8zM679.8 418.16h8.8v8.8h-8.8zM688.6 418.16h8.8v8.8h-8.8zM424.45 462.15h8.8v8.8h-8.8zM433.25 462.15h8.8v8.8h-8.8zM424.45 470.94h8.8v8.8h-8.8zM433.25 470.94h8.8v8.8h-8.8zM644.58 523.72h8.8v8.8h-8.8zM424.45 532.52h8.8v8.8h-8.8zM644.58 532.52h8.8v8.8h-8.8zM415.65 541.32h8.8v8.8h-8.8zM424.45 541.32h8.8v8.8h-8.8zM415.65 550.12h8.8v8.8h-8.8zM415.65 558.91h8.8v8.8h-8.8zM442.06 558.91h8.8v8.8h-8.8zM433.25 567.71h8.8v8.8h-8.8zM442.06 567.71h8.8v8.8h-8.8zM732.62 734.85h8.8v8.8h-8.8zM741.43 734.85h8.8v8.8h-8.8zM741.43 743.65h8.8v8.8h-8.8z"/>
<path fill="#FAFDC8" d="M609.36 215.83h8.8v8.8h-8.8zM618.16 215.83h8.8v8.8h-8.8zM609.36 224.63h8.8v8.8h-8.8zM618.16 224.63h8.8v8.8h-8.8zM486.09 286.21h8.8v8.8h-8.8zM494.89 286.21h8.8v8.8h-8.8zM450.87 295h8.8v8.8h-8.8zM459.67 295h8.8v8.8h-8.8zM468.48 295h8.8v8.8h-8.8zM486.09 295h8.8v8.8h-8.8zM494.89 295h8.8v8.8h-8.8zM450.87 303.8h8.8v8.8h-8.8zM486.09 303.8h8.8v8.8h-8.8zM503.7 321.39h8.8v8.8h-8.8zM591.75 321.39h8.8v8.8h-8.8zM503.7 330.19h8.8v8.8h-8.8zM512.5 330.19h8.8v8.8h-8.8zM521.31 356.58h8.8v8.8h-8.8zM644.58 400.57h8.8v8.8h-8.8zM530.11 409.36h8.8v8.8h-8.8zM538.91 409.36h8.8v8.8h-8.8zM547.72 409.36h8.8v8.8h-8.8zM556.53 409.36h8.8v8.8h-8.8zM538.91 418.16h8.8v8.8h-8.8zM547.72 418.16h8.8v8.8h-8.8zM556.53 418.16h8.8v8.8h-8.8zM582.94 418.16h8.8v8.8h-8.8zM591.75 418.16h8.8v8.8h-8.8zM618.16 418.16h8.8v8.8h-8.8zM582.94 426.96h8.8v8.8h-8.8zM591.75 426.96h8.8v8.8h-8.8zM618.16 426.96h8.8v8.8h-8.8zM424.45 444.55h8.8v8.8h-8.8zM433.25 444.55h8.8v8.8h-8.8zM442.06 444.55h8.8v8.8h-8.8zM424.45 453.35h8.8v8.8h-8.8zM450.87 453.35h8.8v8.8h-8.8zM512.5 453.35h8.8v8.8h-8.8zM450.87 462.15h8.8v8.8h-8.8zM468.48 462.15h8.8v8.8h-8.8zM503.7 462.15h8.8v8.8h-8.8zM512.5 462.15h8.8v8.8h-8.8zM521.31 462.15h8.8v8.8h-8.8zM530.11 462.15h8.8v8.8h-8.8zM547.72 462.15h8.8v8.8h-8.8zM582.94 462.15h8.8v8.8h-8.8zM521.31 470.94h8.8v8.8h-8.8zM530.11 470.94h8.8v8.8h-8.8zM538.91 470.94h8.8v8.8h-8.8zM547.72 470.94h8.8v8.8h-8.8zM582.94 470.94h8.8v8.8h-8.8zM538.91 479.74h8.8v8.8h-8.8zM547.72 479.74h8.8v8.8h-8.8zM591.75 479.74h8.8v8.8h-8.8zM600.55 479.74h8.8v8.8h-8.8zM609.36 479.74h8.8v8.8h-8.8zM635.77 479.74h8.8v8.8h-8.8zM644.58 479.74h8.8v8.8h-8.8zM424.45 488.54h8.8v8.8h-8.8zM459.67 488.54h8.8v8.8h-8.8zM530.11 488.54h8.8v8.8h-8.8zM591.75 488.54h8.8v8.8h-8.8zM600.55 488.54h8.8v8.8h-8.8zM609.36 488.54h8.8v8.8h-8.8zM662.18 488.54h8.8v8.8h-8.8zM424.45 497.33h8.8v8.8h-8.8zM433.25 497.33h8.8v8.8h-8.8zM442.06 497.33h8.8v8.8h-8.8zM450.87 497.33h8.8v8.8h-8.8zM591.75 497.33h8.8v8.8h-8.8zM600.55 497.33h8.8v8.8h-8.8zM662.18 497.33h8.8v8.8h-8.8zM512.5 506.13h8.8v8.8h-8.8zM512.5 514.93h8.8v8.8h-8.8zM626.97 523.72h8.8v8.8h-8.8zM626.97 532.52h8.8v8.8h-8.8zM662.18 532.52h8.8v8.8h-8.8zM670.99 532.52h8.8v8.8h-8.8zM662.18 541.32h8.8v8.8h-8.8zM477.28 550.12h8.8v8.8h-8.8zM486.09 550.12h8.8v8.8h-8.8zM477.28 558.91h8.8v8.8h-8.8zM486.09 558.91h8.8v8.8h-8.8zM574.13 558.91h8.8v8.8h-8.8zM450.87 567.71h8.8v8.8h-8.8zM503.7 567.71h8.8v8.8h-8.8zM670.99 594.1h8.8v8.8h-8.8zM679.8 594.1h8.8v8.8h-8.8zM670.99 602.9h8.8v8.8h-8.8zM679.8 602.9h8.8v8.8h-8.8zM582.94 611.69h8.8v8.8h-8.8zM609.36 682.07h8.8v8.8h-8.8zM618.16 682.07h8.8v8.8h-8.8zM653.38 682.07h8.8v8.8h-8.8zM644.58 690.87h8.8v8.8h-8.8zM653.38 690.87h8.8v8.8h-8.8zM715.02 726.06h8.8v8.8h-8.8zM767.85 743.65h8.8v8.8h-8.8zM767.85 752.45h8.8v8.8h-8.8zM741.43 778.84h8.8v8.8h-8.8zM600.55 787.63h8.8v8.8h-8.8zM609.36 787.63h8.8v8.8h-8.8zM600.55 796.43h8.8v8.8h-8.8zM609.36 796.43h8.8v8.8h-8.8zM653.38 831.62h8.8v8.8h-8.8zM662.18 831.62h8.8v8.8h-8.8zM556.53 858.01h8.8v8.8h-8.8zM565.33 858.01h8.8v8.8h-8.8zM556.53 866.81h8.8v8.8h-8.8zM565.33 866.81h8.8v8.8h-8.8zM688.6 866.81h8.8v8.8h-8.8zM697.4 866.81h8.8v8.8h-8.8zM600.55 919.59h8.8v8.8h-8.8zM609.36 937.18h8.8v8.8h-8.8zM600.55 945.98h8.8v8.8h-8.8zM609.36 945.98h8.8v8.8h-8.8z"/>
<path fill="#F0F9BA" d="M530.11 277.41h8.8v8.8h-8.8zM556.53 295h8.8v8.8h-8.8zM565.33 295h8.8v8.8h-8.8zM494.89 312.6h8.8v8.8h-8.8zM644.58 418.16h8.8v8.8h-8.8zM653.38 418.16h8.8v8.8h-8.8zM468.48 453.35h8.8v8.8h-8.8zM591.75 453.35h8.8v8.8h-8.8zM600.55 453.35h8.8v8.8h-8.8zM486.09 462.15h8.8v8.8h-8.8zM494.89 462.15h8.8v8.8h-8.8zM486.09 470.94h8.8v8.8h-8.8zM494.89 470.94h8.8v8.8h-8.8zM556.53 470.94h8.8v8.8h-8.8zM556.53 479.74h8.8v8.8h-8.8zM670.99 488.54h8.8v8.8h-8.8zM670.99 497.33h8.8v8.8h-8.8zM503.7 506.13h8.8v8.8h-8.8zM459.67 514.93h8.8v8.8h-8.8zM468.48 514.93h8.8v8.8h-8.8zM494.89 514.93h8.8v8.8h-8.8zM459.67 523.72h8.8v8.8h-8.8zM468.48 523.72h8.8v8.8h-8.8zM477.28 523.72h8.8v8.8h-8.8zM486.09 523.72h8.8v8.8h-8.8zM706.21 532.52h8.8v8.8h-8.8zM706.21 541.32h8.8v8.8h-8.8zM715.02 541.32h8.8v8.8h-8.8zM653.38 558.91h8.8v8.8h-8.8zM662.18 558.91h8.8v8.8h-8.8zM653.38 567.71h8.8v8.8h-8.8zM662.18 567.71h8.8v8.8h-8.8zM618.16 611.69h8.8v8.8h-8.8zM644.58 682.07h8.8v8.8h-8.8zM697.4 682.07h8.8v8.8h-8.8zM706.21 682.07h8.8v8.8h-8.8zM697.4 690.87h8.8v8.8h-8.8zM706.21 690.87h8.8v8.8h-8.8zM635.77 717.26h8.8v8.8h-8.8zM697.4 734.85h8.8v8.8h-8.8zM688.6 743.65h8.8v8.8h-8.8zM697.4 752.45h8.8v8.8h-8.8zM706.21 752.45h8.8v8.8h-8.8zM582.94 796.43h8.8v8.8h-8.8zM582.94 805.23h8.8v8.8h-8.8zM591.75 805.23h8.8v8.8h-8.8zM626.97 902h8.8v8.8h-8.8zM635.77 902h8.8v8.8h-8.8zM626.97 910.79h8.8v8.8h-8.8zM635.77 910.79h8.8v8.8h-8.8zM591.75 928.39h8.8v8.8h-8.8zM600.55 928.39h8.8v8.8h-8.8zM591.75 937.18h8.8v8.8h-8.8z"/>
<path fill="#218A47" d="M556.53 277.41h8.8v8.8h-8.8zM424.45 514.93h8.8v8.8h-8.8zM424.45 523.72h8.8v8.8h-8.8zM433.25 550.12h8.8v8.8h-8.8zM424.45 558.91h8.8v8.8h-8.8z"/>
<path fill="#AEDE90" d="M556.53 286.21h8.8v8.8h-8.8zM565.33 286.21h8.8v8.8h-8.8zM442.06 321.39h8.8v8.8h-8.8zM450.87 321.39h8.8v8.8h-8.8zM442.06 330.19h8.8v8.8h-8.8zM450.87 330.19h8.8v8.8h-8.8zM538.91 365.38h8.8v8.8h-8.8zM565.33 470.94h8.8v8.8h-8.8zM574.13 470.94h8.8v8.8h-8.8zM433.25 479.74h8.8v8.8h-8.8zM574.13 479.74h8.8v8.8h-8.8zM530.11 602.9h8.8v8.8h-8.8zM538.91 602.9h8.8v8.8h-8.8zM530.11 611.69h8.8v8.8h-8.8zM538.91 611.69h8.8v8.8h-8.8zM706.21 638.09h8.8v8.8h-8.8zM715.02 638.09h8.8v8.8h-8.8zM679.8 682.07h8.8v8.8h-8.8zM688.6 682.07h8.8v8.8h-8.8zM679.8 690.87h8.8v8.8h-8.8zM688.6 690.87h8.8v8.8h-8.8zM759.04 734.85h8.8v8.8h-8.8zM679.8 770.04h8.8v8.8h-8.8zM697.4 770.04h8.8v8.8h-8.8zM670.99 778.84h8.8v8.8h-8.8zM697.4 778.84h8.8v8.8h-8.8zM706.21 778.84h8.8v8.8h-8.8zM706.21 814.03h8.8v8.8h-8.8zM706.21 822.82h8.8v8.8h-8.8z"/>
<path fill="#D4EEA2" d="M477.28 312.6h8.8v8.8h-8.8zM459.67 435.75h8.8v8.8h-8.8zM468.48 435.75h8.8v8.8h-8.8zM635.77 488.54h8.8v8.8h-8.8zM644.58 488.54h8.8v8.8h-8.8zM723.82 497.33h8.8v8.8h-8.8zM442.06 506.13h8.8v8.8h-8.8zM723.82 506.13h8.8v8.8h-8.8zM653.38 523.72h8.8v8.8h-8.8zM574.13 594.1h8.8v8.8h-8.8zM609.36 594.1h8.8v8.8h-8.8zM759.04 752.45h8.8v8.8h-8.8zM609.36 919.59h8.8v8.8h-8.8zM609.36 928.39h8.8v8.8h-8.8z"/>
<path fill="#62BC70" d="M538.91 347.78h8.8v8.8h-8.8zM538.91 356.58h8.8v8.8h-8.8zM679.8 726.06h8.8v8.8h-8.8zM679.8 734.85h8.8v8.8h-8.8zM732.62 743.65h8.8v8.8h-8.8z"/>
<path fill="#89CE82" d="M547.72 356.58h8.8v8.8h-8.8zM653.38 541.32h8.8v8.8h-8.8zM424.45 567.71h8.8v8.8h-8.8zM635.77 567.71h8.8v8.8h-8.8zM644.58 567.71h8.8v8.8h-8.8z"/>
<path fill="#188242" d="M415.65 514.93h8.8v8.8h-8.8z"/>
<path fill="#00492B" d="M415.65 523.72h8.8v8.8h-8.8zM415.65 532.52h8.8v8.8h-8.8z"/>
<path fill="#0F7B3D" d="M424.45 550.12h8.8v8.8h-8.8zM433.25 558.91h8.8v8.8h-8.8z"/>
<path d="M398.04 180V1010M406.84 180V1010M415.65 180V1010M424.45 180V1010M433.25 180V1010M442.06 180V1010M450.87 180V1010M459.67 180V1010M468.48 180V1010M477.28 180V1010M486.09 180V1010M494.89 180V1010M503.7 180V1010M512.5 180V1010M521.31 180V1010M530.11 180V1010M538.91 180V1010M547.72 180V1010M556.53 180V1010M565.33 180V1010M574.13 180V1010M582.94 180V1010M591.75 180V1010M600.55 180V1010M609.36 180V1010M618.16 180V1010M626.97 180V1010M635.77 180V1010M644.58 180V1010M653.38 180V1010M662.18 180V1010M670.99 180V1010M679.8 180V1010M688.6 180V1010M697.4 180V1010M706.21 180V1010M715.02 180V1010M723.82 180V1010M732.62 180V1010M741.43 180V1010M750.24 180V1010M759.04 180V1010M767.85 180V1010M776.65 180V1010M785.45 180V1010M794.26 180V1010M803.07 180V1010M811.87 180V1010M820.67 180V1010M829.48 180V1010M400 180.64H830M400 189.44H830M400 198.24H830M400 207.03H830M400 215.83H830M400 224.63H830M400 233.42H830M400 242.22H830M400 251.02H830M400 259.81H830M400 268.61H830M400 277.41H830M400 286.21H830M400 295H830M400 303.8H830M400 312.6H830M400 321.39H830M400 330.19H830M400 338.99H830M400 347.78H830M400 356.58H830M400 365.38H830M400 374.18H830M400 382.97H830M400 391.77H830M400 400.57H830M400 409.36H830M400 418.16H830M400 426.96H830M400 435.75H830M400 444.55H830M400 453.35H830M400 462.15H830M400 470.94H830M400 479.74H830M400 488.54H830M400 497.33H830M400 506.13H830M400 514.93H830M400 523.72H830M400 532.52H830M400 541.32H830M400 550.12H830M400 558.91H830M400 567.71H830M400 576.51H830M400 585.3H830M400 594.1H830M400 602.9H830M400 611.69H830M400 620.49H830M400 629.29H830M400 638.09H830M400 646.88H830M400 655.68H830M400 664.48H830M400 673.27H830M400 682.07H830M400 690.87H830M400 699.66H830M400 708.46H830M400 717.26H830M400 726.06H830M400 734.85H830M400 743.65H830M400 752.45H830M400 761.24H830M400 770.04H830M400 778.84H830M400 787.63H830M400 796.43H830M400 805.23H830M400 814.03H830M400 822.82H830M400 831.62H830M400 840.42H830M400 849.21H830M400 858.01H830M400 866.81H830M400 875.6H830M400 884.4H830M400 893.2H830M400 902H830M400 910.79H830M400 919.59H830M400 928.39H830M400 937.18H830M400 945.98H830M400 954.78H830M400 963.57H830M400 972.37H830M400 981.17H830M400 989.97H830M400 998.76H830M400 1007.56H830" fill="none" stroke="#595959" stroke-width="2.0"/>
</g>
<path d="M453.3 276.3 L453.9 276.9 L455 281.1 L456.6 285.5 L457.2 290.8 L456.1 295.2 L453.9 298.6 L450.6 301.4 L448.3 301.6 L445.1 304.7 L440.8 306.3 L437.2 307.3 L436 308.9 L437.5 311 L438 313.8 L435.7 316.3 L433.2 317.8 L433.2 320.3 L435.6 321.8 L437.9 323.5 L438.5 326.6 L432.6 332.7 L430.6 336.2 L431 338.2 L433.4 338.2 L435.2 340.5 L435.3 340.9 L434.2 343.9 L431.5 347.6 L430 351.6 L430.4 353.4 L433.3 352.6 L435.9 354.6 L440.4 352.6 L444.9 350.9 L449.2 351.5 L452.6 353.1 L454.5 356.2 L454.4 356.7 L450.8 362.3 L451.8 366.6 L450.7 370 L448.1 373.6 L447 378.3 L445.5 382.5 L446.5 388.7 L446.4 389.1 L442.9 391.5 L438.2 393.1 L435.2 394.6 L434.3 396.3 L435.3 399.7 L436.9 402 L437.4 405.5 L436.4 408.7 L434.7 411 L432.1 412.6 L431.6 415.9 L432.6 418.4 L432.7 421.1 L434.1 423.5 L436.2 425.1 L436.4 425.7 L435.8 428.9 L434.8 432.1 L433.2 434.3 L433.2 442.8 L431.1 445.4 L431.6 448.1 L430.5 450.7 L428.9 463 L428.4 465.1 L427.1 467 L428.7 468.2 L428.9 468.6 L430.5 481.1 L429.3 484.5 L426.6 485.7 L425.2 487.5 L425.2 490.7 L424.2 493.8 L424.7 498.1 L422.5 507.1 L422.3 507.5 L419.2 509.5 L417.7 513.1 L416.7 517.2 L415.6 522.8 L415.6 532.6 L416.2 541 L418.3 548.4 L420.9 559 L424.1 567.5 L426.8 576.1 L428.4 583.4 L431.5 587 L433.1 584.5 L434.3 580.6 L439.3 578.9 L445.1 578.9 L447.8 581.5 L450.4 581.5 L452.9 578 L455.7 576.3 L456.3 576.2 L458.8 577.2 L461.6 577.2 L464.1 574.7 L464.6 574.6 L467.2 576 L469.9 573.8 L470.9 569.7 L471.4 569.3 L472 569.6 L473.6 572.8 L474.6 576.9 L479.3 579 L482.3 584.3 L484.3 582.3 L486.9 575.9 L489.6 571.2 L489.9 570.9 L490.5 571 L493.2 573.7 L495.2 576.8 L498 577.2 L500.3 576.3 L502.4 570.5 L504.1 569.3 L504.6 569.3 L505 569.6 L507.1 573.2 L509.7 576.2 L510.8 573.9 L512.4 567.6 L512.9 562.3 L514 558.1 L513.5 553.8 L514.1 549.3 L520.1 541.1 L524.1 538.9 L527.8 540.2 L531 543.9 L531.7 547.4 L530.1 552 L527.9 555.7 L527.4 559.1 L529 563.4 L528 567.7 L529 571.7 L531.7 576.1 L533.3 581.4 L533.3 586.9 L532.1 592.6 L528.8 594.3 L527.1 595.9 L528.7 597.5 L532.8 598.5 L533.3 599 L534.3 603 L533.3 608.2 L534.3 614.4 L536.4 619.6 L540.1 624.8 L544.4 629.2 L547.5 634.4 L551.7 638.6 L556 642.3 L559.3 646.6 L564.1 658.4 L567.8 663.6 L571.4 667.3 L574.3 669.4 L589.2 676.8 L594.6 679 L597.3 681.1 L598.9 684.2 L602.7 684.2 L603.1 684.3 L606.4 687.1 L609.5 690.7 L613.3 692.4 L615.5 697.9 L617.2 701.2 L619.3 710.6 L621.8 713.7 L624.9 716.8 L629.6 718.8 L639.4 722.7 L643.2 726.5 L645.8 730.8 L649 734.5 L650.7 737.4 L650.6 737.8 L648.6 740.9 L648 745.1 L646.8 749.6 L632.9 763.6 L627.4 766.8 L621 768.9 L615.5 770.3 L615.1 770.6 L607.1 771.7 L600.8 773.2 L595.6 775.3 L590.3 778.5 L585 782.2 L579.7 786.4 L574.4 791.2 L569.9 795.9 L567.9 800.9 L568.9 805.9 L572 809.5 L574.3 811.5 L589.3 817.4 L593.5 820.6 L597.3 823.8 L600.1 827.7 L602.3 831.8 L604.6 833.8 L607.9 834.5 L615.3 831.6 L617.8 833.1 L618 833.6 L618.4 837.5 L616.2 839.8 L615.6 841.8 L617.1 843.7 L619.4 844.9 L619.5 845.3 L618.7 846.7 L618.2 846.9 L610.2 847.4 L603.9 848.4 L603.4 848 L602.7 845.5 L601.4 843.2 L599.2 842.2 L596.5 842.2 L593.8 843.2 L591.8 845.6 L589.6 851.4 L585.8 853.8 L582.1 855.6 L579.3 855.6 L578.9 855.4 L576 852.2 L574.6 853.4 L572.8 854.4 L571.5 855.7 L570 861.6 L568.1 862.5 L567.6 862.2 L567.2 859.9 L564.4 859.6 L562.1 859.6 L560.3 858.3 L560.3 857.7 L561.1 856.1 L563 855.1 L562.8 854 L561 852.8 L559.6 850.4 L557.7 849.1 L554.2 848 L550.7 848.4 L546.5 849.1 L544.6 850.1 L545.2 850.9 L547.3 852 L548.9 854.2 L551.8 855.7 L554 857.5 L555.9 859.5 L555.7 860.2 L553.9 861.7 L550.9 862.9 L547.8 863.3 L545.4 862.5 L543.4 861.2 L541.3 862.5 L538.5 862.9 L536 861.2 L534 861.8 L531.1 861.8 L528.4 862.2 L526.5 863.4 L526 864.7 L527.4 865.8 L529.8 867.2 L532.7 867.9 L535 869 L536.7 871.4 L537.9 870.9 L539.4 868.7 L543.8 865.8 L545.5 865 L545.9 865.1 L548 866.5 L554.5 869 L557.4 870.5 L560.4 871.2 L562.6 872.4 L564.6 874 L564.7 874.4 L564.3 876.5 L564.7 878.4 L563.7 880.1 L564.7 882 L564.3 884.4 L563.3 885.3 L563.9 886.8 L563.9 887.3 L562.3 888.6 L561.8 888.7 L560 887.7 L559.5 885.3 L558.9 883.8 L556.2 882.5 L552.7 881.4 L549.7 881.1 L548.1 881.9 L548.3 882.9 L550 883.6 L550.1 884.3 L549.9 884.6 L548.2 885.6 L546.9 887.5 L547.2 890.4 L546.4 893.2 L545.7 893.3 L543.2 892.3 L541 890.9 L539.2 890.9 L535.6 893.5 L534.9 896.1 L534.9 898.8 L535.8 900.6 L538.1 900.9 L540.1 899.2 L542.5 898.4 L545.7 899.1 L548.2 901.4 L550 903.7 L551.1 905.8 L553.4 907.7 L554.9 910.5 L555.6 913.9 L556.2 917.8 L557.7 920.9 L557.7 921.4 L555 924.8 L554.6 925 L551.3 924 L547.1 925 L541.7 925.5 L536.4 925.5 L528 924.8 L525.9 926.8 L522.6 927.7 L521.2 928.9 L520.9 931.8 L523.5 938.1 L523.3 942.1 L521.9 945.1 L521.6 945.4 L521.1 945.3 L520.8 945 L519 939 L517.5 936.9 L515.5 936.3 L513 936.5 L510.9 936.9 L512.1 941.2 L513.1 943.8 L515.1 945.3 L516.6 948.1 L517.3 951.5 L517.5 955.6 L517.3 959.7 L517.9 963.6 L519.2 966.8 L521.4 969.4 L524.6 970.7 L528.6 971.7 L531.9 973.5 L533.1 976.8 L532.4 980.1 L532.2 983.3 L533.5 986.5 L535 989 L536.9 989.8 L539.3 989 L541.7 987 L544.6 985.3 L546.7 985.6 L547.7 986.5 L551.3 986.6 L556.8 986.1 L565.2 988.2 L573.9 986.1 L575.3 986.5 L576.6 984.3 L577.6 980.4 L576.2 977.5 L573.6 975.7 L572.1 974.2 L571.5 970.8 L572.1 967.7 L573.9 966.6 L576.5 966.9 L578.1 965.7 L577.7 962 L579.4 957.6 L582.2 953.7 L586.6 950.4 L590.9 949.4 L599.6 951.5 L603.9 950.4 L607.3 952.7 L610.3 955.1 L612.4 954.3 L613.3 951.1 L611.2 945.4 L610.1 940 L611.2 935.4 L611.7 935 L614.1 935.5 L614.5 936 L618.7 955.6 L620.9 958.6 L622.6 956.9 L625 955.2 L633.8 957.4 L638.3 959.2 L641.4 962.7 L645.4 963.2 L648.8 964.9 L653.6 970.6 L656.6 970.2 L657.4 967.7 L655.6 965.8 L655.4 965.2 L655.7 964.9 L658.8 962.8 L660.1 961 L658.7 957.2 L655.6 954.2 L653 952.6 L652.7 951.9 L655.6 948.4 L659 945.7 L663.3 944.6 L667.6 944 L672.1 945.7 L680.6 947.8 L684.7 948.3 L688 947.8 L689.5 943.9 L689.8 943.6 L693.2 941.9 L696.3 943.4 L699.3 940.5 L702.6 937.7 L706.9 936.1 L711.1 935 L715.3 932.9 L720.9 932.4 L723.5 930.6 L726.9 929.3 L731.2 928.4 L737.9 926.7 L741.4 925.5 L744.8 925 L748.2 925.4 L751.4 924.6 L754.9 922.9 L758.3 922.5 L761.9 923.3 L765.1 923.3 L765.4 922.5 L763.6 921 L760.8 919.4 L757.5 919.4 L754.1 919 L750 918.1 L748.1 915.6 L748.5 912.2 L747.1 910.5 L744.8 910.1 L744.4 909.9 L743.8 907.1 L743.9 906.7 L744.3 906.4 L747.2 905.6 L750.7 905.5 L754 904.7 L757.7 905.6 L760.1 906.7 L762.3 905.7 L766.3 900.8 L766.8 897.8 L768.2 895.1 L771.7 893.7 L775.9 893.7 L781.6 888.1 L781.9 885.6 L779.8 883.8 L780.2 880.7 L779.8 877.5 L778.3 874.3 L776.5 872.9 L771.3 875 L767.9 875.8 L763.3 875.4 L759.9 874.1 L757.8 871.6 L758 871 L759.5 869.4 L759.9 867.3 L758.5 865.6 L755 865.1 L751.4 865.2 L749.1 866.4 L747.4 869.3 L741.5 874.4 L738.5 877.7 L736 881.2 L731 886.2 L729.6 889.2 L727.1 891.3 L725 893.8 L723.4 896.7 L721.6 900.6 L719.1 903.6 L714 908.7 L711.4 911.6 L708.6 914.3 L705.2 915.6 L702 916.5 L701.6 916.2 L700.7 914.9 L700.6 914.5 L700.8 914.2 L703.1 913.2 L706 911.6 L708.4 909.6 L709 908 L707.4 906.2 L708 904.1 L708.6 903.9 L710.2 905 L712.3 903.6 L714.7 901.1 L716.8 897.4 L718.5 893.2 L719.7 889.1 L720.1 885.5 L719.2 884.2 L717.7 884.6 L714.4 888.7 L713.8 888.9 L713.4 888.6 L712.1 885.9 L712.5 882.8 L714.1 880.7 L713.5 879.6 L710.9 879 L707.8 879.2 L705 880.8 L703 883.2 L701.4 886.1 L700 889.1 L698.4 891.7 L696.6 893.8 L696.1 894 L693.8 893.7 L691.5 896 L689 898.9 L687.1 901.8 L686.5 902.1 L686.1 901.8 L685.4 900.6 L687.2 897 L689.4 893.9 L694.4 888.8 L696.5 886.4 L697.7 883.1 L698.1 880.2 L696.9 879.3 L695.2 879.6 L693.6 881.1 L691.9 883.3 L689.4 885.8 L686.3 888 L685.9 888.1 L683.1 887.6 L682.1 886.1 L682.1 885.5 L682.5 885.2 L685 884.8 L687.3 883.6 L688.9 882.1 L687.8 881.2 L685.5 880.1 L683.2 880.9 L682.8 880.9 L681.3 879.5 L681.2 879 L681.4 878.6 L683.7 876.8 L691.3 874.1 L695.6 872.9 L700.7 872.1 L709.9 869.6 L713.1 868 L714 866.5 L712.4 865.2 L709.1 864 L704.2 863.4 L699.1 863.1 L694.1 863.5 L690 864.4 L686.7 865.6 L684.1 866.9 L681.5 867.3 L678.7 868.9 L676.7 871 L675.1 873.4 L673.4 876.3 L672.1 879.3 L670.7 880.4 L670.4 880.5 L669.9 880.3 L667.6 878.1 L665.9 878.7 L660.6 881.7 L660.2 881.7 L659.8 881.5 L659.6 880.4 L659.8 879.8 L669.1 873.4 L668.7 872.8 L666 872.2 L657.8 871.6 L656.2 870.2 L656.3 869.5 L658.1 868.5 L661.9 868.7 L669.9 869.5 L671.5 869.4 L671.4 868.7 L669.8 866.6 L668.5 864.1 L668.7 861.2 L669 860.8 L671.4 859 L675.3 857.9 L679.6 857.4 L683.8 857.4 L686.4 856.9 L687 855.8 L686 854.5 L676 849.5 L672.5 848.6 L671.7 847.7 L671.7 846.9 L672.1 846.7 L674.7 846.4 L678 846.9 L681.5 848 L683.7 848.3 L684.7 847.3 L685.2 847.1 L685.5 847.2 L686.9 848.2 L688.1 850.2 L690.1 851 L692.7 852.7 L696.5 856.6 L699.2 857.3 L702.4 856.9 L704.8 856.1 L706.8 854.4 L707.4 854.3 L709.6 855.3 L712.2 856.9 L714.3 858.6 L717.2 859.9 L720.6 862 L722.5 864.3 L723.6 866.4 L727.9 866.6 L732.9 866.4 L737.9 865.3 L741.5 863.3 L743.9 860.5 L746 857.1 L749.1 854.4 L753.2 852.6 L757.5 851.8 L767.7 850.9 L772.6 850.9 L775.7 849 L777.3 845.8 L778.5 842.6 L777.3 839.4 L777.3 839 L780 836.3 L785.4 835.1 L792.5 834.6 L795 833.6 L794.2 832.1 L790.7 828.9 L787.2 827.9 L782.1 828.9 L777.7 829.1 L777.3 828.5 L777.6 825.4 L776.7 822.6 L773.6 821.6 L771.8 818.5 L773.4 814.5 L775.5 810.3 L775.5 806 L778.3 802.6 L780.8 800.1 L780.3 795.6 L780.4 795.2 L783.6 793 L785 790.2 L783.5 786.1 L782.4 782.4 L782.5 782 L785.9 778.5 L790.1 775.9 L794.3 772.8 L796.9 769.4 L798.5 766.4 L800.9 763.6 L803.8 762.5 L806.5 764 L809.5 763.5 L812.9 762.6 L813.8 759.3 L813.3 755.7 L813.8 752.5 L812.3 748.4 L810.2 745.3 L810.1 740.9 L807.7 738.6 L804 738 L800.7 734.8 L797.7 732.2 L793.6 731.7 L788.3 732.2 L782.9 731.7 L778.7 730.1 L773.6 730.6 L769.4 732.7 L765.5 733.3 L764.9 733 L763.9 731.4 L763.8 728 L762.7 723.5 L763.9 719 L766.7 715.7 L770.9 713.1 L774.6 709.4 L778.3 705.2 L781.4 702 L783.2 698 L782.9 694 L780.8 689.7 L782.1 683.9 L782.5 679.9 L781.8 677.6 L779.9 675.7 L776.5 674.8 L773.8 675 L770.9 676.1 L767.7 676.8 L760.5 675.4 L756.8 674.3 L751 671.4 L748.2 670.9 L741.8 671.7 L738.1 671.7 L735 671 L732.5 669 L728.2 663.6 L719.5 656 L714.1 651.6 L712.4 649.1 L712.6 648.6 L713.8 647 L717.6 646.2 L726.4 645.7 L735.1 644.8 L739.4 644.1 L743.7 643 L748 641.2 L751.5 639.1 L753.7 636.5 L756.9 634.3 L760 633.9 L762.9 634.6 L766.4 635 L773.6 634.2 L777.2 634.6 L780.8 633.9 L784.4 633.7 L786.7 632.9 L787.9 631 L787.9 628.1 L786.3 625.4 L783.5 623 L780 620.9 L776.4 620 L772.6 619.4 L769.6 617.5 L767.3 614.7 L766.2 611.8 L766.2 611.4 L767.4 608.3 L769.6 605.8 L773.4 603.8 L777.8 602.7 L781 601.3 L781.5 600.9 L783.2 597.5 L781.5 594.3 L777.5 592.8 L772.1 592.2 L768.2 589.9 L766.4 585.9 L765.4 581.4 L762.5 578.9 L758.6 578.4 L754.1 580.5 L750.3 583.7 L743.6 587.9 L739.3 590.1 L738.9 590.1 L735.3 587.2 L733.2 582.9 L733.1 576.3 L732.1 572.4 L728.4 571 L724.4 572.5 L719 576.3 L714.5 577.9 L714.1 577.7 L710.9 574.5 L709.2 569 L710.2 563.3 L712.9 557.9 L717.4 554.5 L722.1 551.3 L724.5 548.4 L723.6 544.6 L716.7 537.6 L716.7 534.4 L720.7 531.5 L725.9 528.9 L731.7 524.7 L733.6 522.5 L733.6 516.1 L732.6 510.9 L731 506.7 L728.9 502.8 L729.9 499 L729.4 494.9 L727.8 490.7 L725.7 486.4 L723.5 477.9 L724.2 473.6 L727.1 472.1 L726.2 469.1 L726.7 466 L725.7 462.1 L723.3 459.6 L718.9 457.9 L716.6 453.2 L716.6 448.8 L719.8 440.3 L720.9 434.9 L722.5 431.7 L722.9 431.4 L727 429.8 L729.5 427.9 L730.6 424.6 L732.9 423.2 L732.8 422.9 L728.4 422.7 L723.2 424 L716.8 425.1 L710.1 425.6 L704.7 423.9 L695.2 418.1 L691.1 417.6 L684.6 418.1 L679.2 416.5 L666.5 413.4 L661 410.6 L652.1 405.4 L648.3 405.7 L644.6 404.3 L641.7 400.1 L638.5 396.7 L635.4 394.1 L631.2 391.4 L626.9 388.2 L622.7 385.6 L614.1 381.3 L611.2 378.9 L609.7 375.3 L606.7 372.8 L602.5 370.2 L598.1 368 L593.9 364.3 L589.6 361.6 L585.4 358.4 L578.6 350.6 L576.2 351.1 L575.7 350.9 L573.6 348.5 L571.6 345.5 L568.9 342.3 L566.3 338 L564.4 333.7 L564.9 330.8 L565.2 330.5 L567.4 329.9 L570.8 331.9 L574.2 334.1 L578.4 335 L582.5 335.5 L585.7 334.7 L590 335 L590.4 335.2 L592.5 337.7 L595.3 338.7 L599.7 337.6 L602.8 338.2 L605.9 338.2 L609.1 339.6 L610.8 338.4 L612.2 335.6 L610.2 332.6 L609.1 329.1 L609.2 328.7 L611.2 326.8 L612.2 319.7 L611.3 317.7 L611.2 317.2 L614.5 313.9 L616.5 310.9 L617.1 307.2 L618.3 303.2 L621.7 302 L624.8 300.5 L627.9 297.4 L630.4 294.3 L631.5 290 L633.6 286.3 L637.5 282.9 L641.9 280.7 L645.1 279.6 L645.6 279.7 L648.5 281.1 L651.5 279.1 L655.8 277.5 L661.5 275.9 L665.2 272.8 L669.4 270.7 L670.2 268.7 L668.3 267.2 L665.1 262.9 L661.9 257.6 L657.7 252.4 L653 249.3 L647.3 246.7 L642.1 245.6 L635.9 245.6 L631.7 247.2 L627.5 247.2 L627.2 246.5 L627.7 243.3 L630 240.4 L634.4 238.1 L637.8 237.5 L641.7 236.5 L643.9 232.8 L647 232.3 L647.9 228.4 L648.2 228.1 L650.4 226.4 L653.5 224.8 L656.8 221.6 L661.1 221.5 L664.3 218.9 L668.6 219.4 L672.3 216.3 L672.7 216.3 L675.5 217.4 L679.7 220.6 L685 223.2 L689 224.7 L694.1 223.7 L696.9 221.8 L697.4 217.8 L697.9 217.3 L701.8 216.2 L705.7 218.4 L709.1 218.9 L710.8 217.6 L711.1 213.8 L709.6 212.2 L707.7 213.1 L704.7 213.6 L700.3 209.3 L697.9 207.3 L695.9 207.8 L695.4 209.7 L692.4 212.1 L691.9 212 L688.4 210.5 L684.7 211.6 L681.6 210.6 L678.2 213 L677.5 213.1 L673.3 211 L673 210.6 L673 206.3 L670.3 202 L670.8 198.9 L670.1 197.8 L668.4 198.2 L667.9 198.2 L666.3 196.1 L664.6 195.6 L662.7 197.1 L662.3 197.2 L661.9 197 L660.6 195.7 L659.7 196 L658.6 201.2 L655.1 204.1 L654.4 203.8 L651.3 199.2 L648.4 197.2 L642.7 198.2 L642.7 199.7 L643.8 205 L642.6 208.7 L642.2 208.9 L641.7 208.7 L637.6 204.6 L635.7 204.2 L635.3 206.1 L636.9 209.4 L635.1 213 L634.6 213.1 L632.2 212.7 L630.9 214 L629.4 217.1 L629 217.4 L628.5 217.3 L624.5 214.8 L622.4 215.7 L621.3 218.3 L617.9 220 L617.2 219.9 L616 218.7 L614.9 219.3 L613.8 222.1 L615 224 L615 224.5 L614 227.6 L613.4 232.9 L611.8 239.3 L609.7 244.7 L607.3 248.6 L609.6 249.9 L611.8 252.3 L611.2 256.1 L608.2 258.9 L602.9 260.5 L597.1 260 L594.8 261.9 L594.2 265.1 L590.3 267.5 L587.3 270.5 L584.3 272 L580.6 273.1 L576.3 273.8 L572.8 275.2 L570.1 278 L567.3 279.6 L566.7 279.6 L566.4 279.3 L564 272.5 L562.5 270.2 L560.5 265.8 L556.3 264.7 L556.1 264.4 L555.1 260.9 L552.9 259.5 L549.5 261 L545.1 263.7 L540.1 265.3 L536.2 263.2 L531.8 262 L522.2 254.1 L518.1 252 L509.8 251 L501.8 251 L495.4 249.4 L488.8 250.9 L486.8 252.9 L486.3 253.1 L483 252.5 L477.1 250.4 L476.8 250 L476.3 248.7 L471.5 247.8 L469.3 248.7 L468.9 251.5 L468.5 252 L462 254.1 L453.7 256.2 L448.5 260.9 L445.4 265.1 L442.9 269.5 L444.3 272.3 L447.3 274.8 L449.9 275.7 L451.3 273.5 L451.6 273.2 L452 273.2 L452.3 273.6 Z" fill="none" stroke="#595959" stroke-width="2" stroke-linejoin="round"/>
</g>
<rect x="397.1" y="157.05" width="434.9" height="870.95" fill="none" stroke="#333" stroke-width="2.1"/>
<g stroke="#333" stroke-width="4.2" fill="none">
<path d="M409.7 1029V1040.9"/>
<path d="M490.3 1029V1040.9"/>
<path d="M570.6 1029V1040.9"/>
<path d="M651.2 1029V1040.9"/>
<path d="M731.5 1029V1040.9"/>
<path d="M812.1 1029V1040.9"/>
<path d="M385.4 331.8H396.1"/>
<path d="M385.4 527.7H396.1"/>
<path d="M385.4 723.7H396.1"/>
<path d="M385.4 919.5H396.1"/>
</g>
<g font-size="35" fill="#4D4D4D">
<text x="375.5" y="344.8" dx="0 1.05 0 -1.6" text-anchor="end">42°N</text>
<text x="375.5" y="540.7" dx="0 1.05 0 -1.6" text-anchor="end">40°N</text>
<text x="375.5" y="736.7" dx="0 1.05 0 -1.6" text-anchor="end">38°N</text>
<text x="375.5" y="932.5" dx="0 1.05 0 -1.6" text-anchor="end">36°N</text>
<text transform="translate(409.8 1104.3) rotate(-45)" text-anchor="middle" y="12.8" dx="0 0.8 1.2 0.5 -2.5">105°W</text>
<text transform="translate(490.4 1104.3) rotate(-45)" text-anchor="middle" y="12.8" dx="0 0.8 1.2 0.5 -2.5">104°W</text>
<text transform="translate(570.7 1104.3) rotate(-45)" text-anchor="middle" y="12.8" dx="0 0.8 1.2 0.5 -2.5">103°W</text>
<text transform="translate(651.3 1104.3) rotate(-45)" text-anchor="middle" y="12.8" dx="0 0.8 1.2 0.5 -2.5">102°W</text>
<text transform="translate(731.6 1104.3) rotate(-45)" text-anchor="middle" y="12.8" dx="0 0.8 1.2 0.5 -2.5">101°W</text>
<text transform="translate(812.2 1104.3) rotate(-45)" text-anchor="middle" y="12.8" dx="0 0.8 1.2 0.5 -2.5">100°W</text>
</g>
<text x="901.8" y="453.2" font-size="45.8" fill="#000">Log10 Occurrences</text>
<rect x="904.5" y="483.9" width="66" height="66" fill="#F9FDC6" stroke="#595959" stroke-width="4" stroke-linejoin="round"/>
<text x="995.5" y="530.9" font-size="36.67" fill="#000">0.5</text>
<rect x="904.5" y="555.9" width="66" height="66" fill="#C2E699" stroke="#595959" stroke-width="4" stroke-linejoin="round"/>
<text x="995.5" y="602.9" font-size="36.67" fill="#000">1.0</text>
<rect x="904.5" y="627.9" width="66" height="66" fill="#66BD70" stroke="#595959" stroke-width="4" stroke-linejoin="round"/>
<text x="995.5" y="674.9" font-size="36.67" fill="#000">1.5</text>
<rect x="904.5" y="699.9" width="66" height="66" fill="#208040" stroke="#595959" stroke-width="4" stroke-linejoin="round"/>
<text x="995.5" y="746.9" font-size="36.67" fill="#000">2.0</text>
</svg>
</body></html>
